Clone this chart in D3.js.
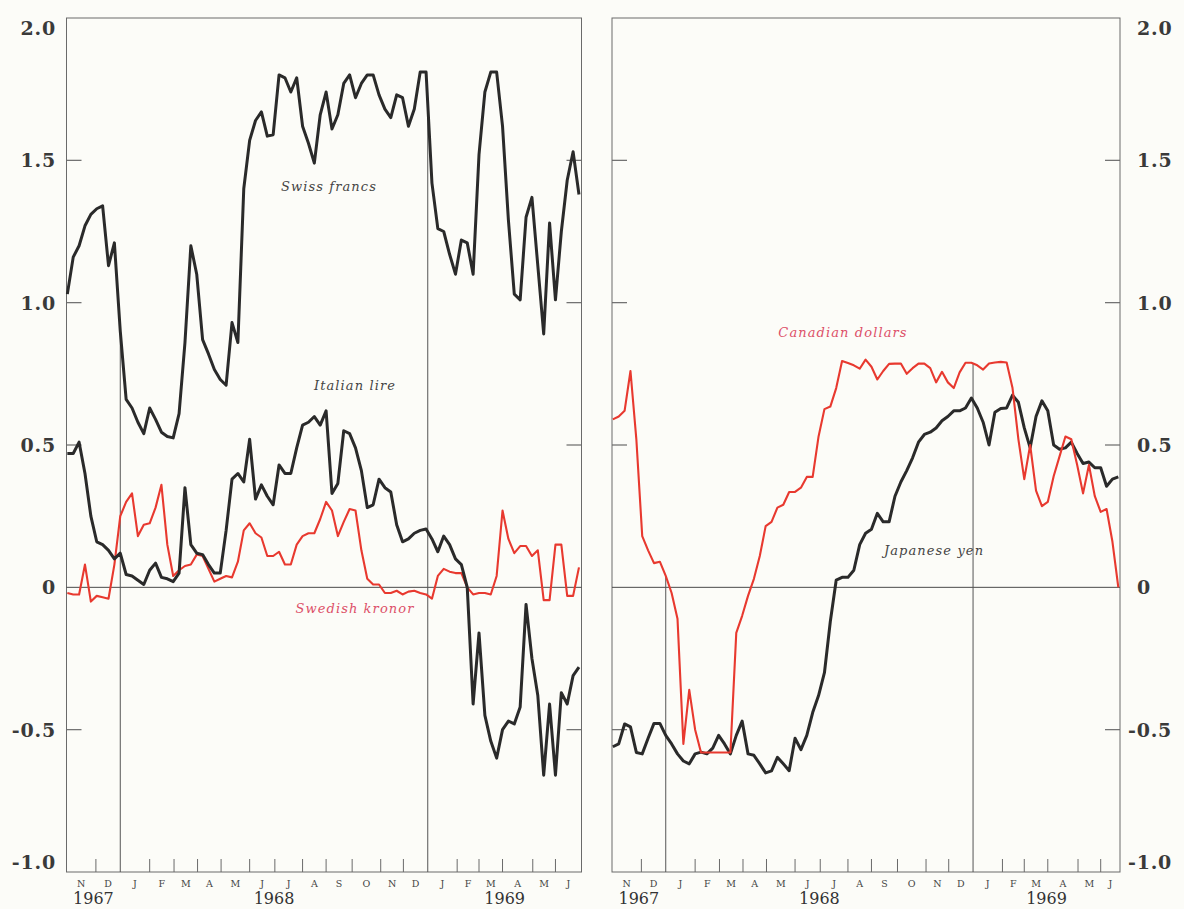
<!DOCTYPE html>
<html>
<head>
<meta charset="utf-8">
<script src="https://cdn.jsdelivr.net/npm/d3@7/dist/d3.min.js"></script>
<style>
  html, body { margin: 0; padding: 0; background: #fcfcf8; }
  svg { display: block; }
</style>
</head>
<body>
<svg id="chart" width="1184" height="909"></svg>
<script>
// Weekly observations, first week ending 30 Oct 1967
const firstWeek = "1967-10-30";

// Left panel
const swissFrancs = [
  1.03, 1.16, 1.20, 1.27, 1.31, 1.33, 1.34, 1.13, 1.21, 0.90,
  0.66, 0.63, 0.58, 0.54, 0.63, 0.59, 0.545, 0.53, 0.525, 0.61,
  0.86, 1.20, 1.10, 0.87, 0.82, 0.765, 0.73, 0.71, 0.93, 0.86,
  1.40, 1.57, 1.64, 1.67, 1.585, 1.59, 1.80, 1.79, 1.74, 1.79,
  1.62, 1.56, 1.49, 1.66, 1.74, 1.61, 1.66, 1.77, 1.80, 1.72,
  1.77, 1.80, 1.80, 1.73, 1.68, 1.65, 1.73, 1.72, 1.62, 1.68,
  1.81, 1.81, 1.42, 1.26, 1.25, 1.17, 1.10, 1.22, 1.21, 1.10,
  1.52, 1.74, 1.81, 1.81, 1.62, 1.29, 1.03, 1.01, 1.30, 1.37,
  1.13, 0.89, 1.28, 1.01, 1.25, 1.43, 1.53, 1.38
];
const italianLire = [
  0.47, 0.47, 0.51, 0.40, 0.25, 0.16, 0.15, 0.13, 0.10, 0.12,
  0.045, 0.04, 0.025, 0.01, 0.06, 0.085, 0.035, 0.03, 0.02, 0.05,
  0.35, 0.15, 0.12, 0.115, 0.08, 0.05, 0.05, 0.20, 0.38, 0.40,
  0.37, 0.52, 0.31, 0.36, 0.32, 0.29, 0.43, 0.40, 0.40, 0.49,
  0.57, 0.58, 0.60, 0.57, 0.62, 0.33, 0.365, 0.55, 0.54, 0.49,
  0.41, 0.28, 0.29, 0.38, 0.35, 0.335, 0.22, 0.16, 0.17, 0.19,
  0.20, 0.205, 0.17, 0.125, 0.18, 0.15, 0.10, 0.08, 0.00, -0.41,
  -0.16, -0.45, -0.54, -0.60, -0.50, -0.47, -0.48, -0.42, -0.06, -0.25,
  -0.38, -0.66, -0.41, -0.66, -0.37, -0.41, -0.31, -0.28
];
const swedishKronor = [
  -0.02, -0.025, -0.025, 0.08, -0.05, -0.03, -0.035, -0.04, 0.08, 0.25,
  0.30, 0.33, 0.18, 0.22, 0.225, 0.28, 0.36, 0.15, 0.04, 0.06,
  0.075, 0.08, 0.115, 0.11, 0.065, 0.02, 0.03, 0.04, 0.035, 0.09,
  0.20, 0.225, 0.19, 0.175, 0.11, 0.11, 0.125, 0.08, 0.08, 0.15,
  0.18, 0.19, 0.19, 0.24, 0.30, 0.27, 0.18, 0.23, 0.275, 0.27,
  0.13, 0.03, 0.01, 0.01, -0.02, -0.02, -0.012, -0.025, -0.015, -0.012,
  -0.02, -0.025, -0.04, 0.04, 0.065, 0.055, 0.05, 0.05, 0.00, -0.025,
  -0.02, -0.02, -0.025, 0.04, 0.27, 0.17, 0.12, 0.145, 0.145, 0.11,
  0.13, -0.045, -0.045, 0.15, 0.15, -0.03, -0.03, 0.07
];

// Right panel
const canadianDollars = [
  0.59, 0.60, 0.62, 0.76, 0.52, 0.18, 0.13, 0.085, 0.09, 0.04,
  -0.02, -0.11, -0.55, -0.36, -0.50, -0.58, -0.58, -0.58, -0.58, -0.58,
  -0.58, -0.16, -0.10, -0.03, 0.03, 0.11, 0.215, 0.23, 0.28, 0.29,
  0.335, 0.335, 0.35, 0.388, 0.388, 0.53, 0.626, 0.635, 0.70, 0.795,
  0.788, 0.78, 0.768, 0.80, 0.775, 0.73, 0.76, 0.785, 0.786, 0.786,
  0.75, 0.77, 0.786, 0.786, 0.77, 0.72, 0.757, 0.72, 0.70, 0.755,
  0.789, 0.789, 0.78, 0.765, 0.786, 0.79, 0.792, 0.79, 0.70, 0.52,
  0.38, 0.50, 0.34, 0.285, 0.30, 0.39, 0.46, 0.53, 0.52, 0.43,
  0.33, 0.43, 0.32, 0.265, 0.275, 0.16, 0.00
];
const japaneseYen = [
  -0.56, -0.55, -0.48, -0.49, -0.58, -0.585, -0.53, -0.478, -0.478, -0.52,
  -0.55, -0.585, -0.61, -0.62, -0.585, -0.579, -0.585, -0.565, -0.52, -0.55,
  -0.585, -0.52, -0.47, -0.585, -0.59, -0.62, -0.652, -0.645, -0.597, -0.62,
  -0.644, -0.53, -0.57, -0.52, -0.44, -0.38, -0.30, -0.12, 0.025, 0.035,
  0.035, 0.06, 0.15, 0.19, 0.204, 0.26, 0.23, 0.23, 0.32, 0.37,
  0.41, 0.455, 0.51, 0.537, 0.545, 0.56, 0.585, 0.60, 0.62, 0.62,
  0.63, 0.665, 0.63, 0.58, 0.50, 0.615, 0.628, 0.63, 0.675, 0.65,
  0.56, 0.49, 0.60, 0.655, 0.62, 0.50, 0.485, 0.49, 0.51, 0.47,
  0.435, 0.44, 0.42, 0.42, 0.355, 0.38, 0.388
];

// Axis labelling
const valueTicks = [2.0, 1.5, 1.0, 0.5, 0, -0.5, -1.0];
const valueTickLabels = ["2.0", "1.5", "1.0", "0.5", "0", "-0.5", "-1.0"];
const monthLabels = ["N", "D", "J", "F", "M", "A", "M", "J", "J", "A", "S", "O", "N", "D",
                     "J", "F", "M", "A", "M", "J"];
const monthTickDates = ["1967-12-03", "1968-02-05", "1968-03-05", "1968-04-02", "1968-04-30",
                        "1968-06-03", "1968-07-03", "1968-08-05", "1968-09-02", "1968-10-03",
                        "1968-11-06", "1968-12-03", "1969-02-05", "1969-03-03", "1969-03-31",
                        "1969-05-06", "1969-06-02"];
const yearStartDates = ["1968-01-01", "1969-01-01"];
const yearLabels = ["1967", "1968", "1969"];

const parse = d3.timeParse("%Y-%m-%d");
const start = parse(firstWeek);
const weekDates = n => d3.range(n).map(i => d3.timeDay.offset(start, 7 * i));
const monthTicks = monthTickDates.map(parse);
const yearStarts = yearStartDates.map(parse);

const W = 1184, H = 909;
const plotTop = 18, plotBottom = 872;
const lineBlack = "#2a2a2a", lineRed = "#e8392f", labelRed = "#dc5068";
const frameColor = "#6a6a6a";

const svg = d3.select("#chart");
svg.append("rect").attr("width", W).attr("height", H).attr("fill", "#fcfcf8");

const y = d3.scaleLinear().domain([-1, 2]).range([plotBottom, plotTop]);

const panels = [
  {
    left: 66.5, right: 581.5, end: "1969-07-03", labelSide: "left",
    series: [
      { values: swedishKronor, color: lineRed, width: 2.1 },
      { values: italianLire, color: lineBlack, width: 3 },
      { values: swissFrancs, color: lineBlack, width: 3 }
    ],
    names: [
      { text: "Swiss francs", x: 329, y: 191, color: "#444" },
      { text: "Italian lire", x: 355, y: 390, color: "#444" },
      { text: "Swedish kronor", x: 355, y: 613, color: labelRed }
    ]
  },
  {
    left: 612, right: 1120, end: "1969-06-25", labelSide: "right",
    series: [
      { values: japaneseYen, color: lineBlack, width: 3 },
      { values: canadianDollars, color: lineRed, width: 2.1 }
    ],
    names: [
      { text: "Canadian dollars", x: 843, y: 337, color: labelRed },
      { text: "Japanese yen", x: 934, y: 555, color: "#444" }
    ]
  }
];

// series value at a given date (linear between weekly points)
function seriesAt(values, date) {
  const dates = weekDates(values.length);
  const i = d3.bisector(d => d).left(dates, date);
  if (i <= 0) return values[0];
  if (i >= dates.length) return values[values.length - 1];
  const t = (date - dates[i - 1]) / (dates[i] - dates[i - 1]);
  return values[i - 1] + t * (values[i] - values[i - 1]);
}

panels.forEach(p => {
  const x = d3.scaleTime()
    .domain([d3.timeDay.offset(start, -1), parse(p.end)])
    .range([p.left, p.right]);
  const g = svg.append("g");

  // frame
  g.append("rect")
    .attr("x", p.left).attr("y", plotTop)
    .attr("width", p.right - p.left).attr("height", plotBottom - plotTop)
    .attr("fill", "none").attr("stroke", frameColor).attr("stroke-width", 1);

  // zero line
  g.append("line")
    .attr("x1", p.left).attr("x2", p.right)
    .attr("y1", y(0)).attr("y2", y(0))
    .attr("stroke", "#4a4a4a").attr("stroke-width", 1);

  // value ticks on both sides of the frame
  const inner = valueTicks.filter(v => v > -1 && v < 2 && v !== 0);
  g.selectAll(".ytl").data(inner).join("line")
    .attr("x1", p.left).attr("x2", p.left + 15)
    .attr("y1", d => y(d)).attr("y2", d => y(d))
    .attr("stroke", frameColor).attr("stroke-width", 1.2);
  g.selectAll(".ytr").data(inner).join("line")
    .attr("x1", p.right - 15).attr("x2", p.right)
    .attr("y1", d => y(d)).attr("y2", d => y(d))
    .attr("stroke", frameColor).attr("stroke-width", 1.2);

  // month ticks along the bottom
  g.selectAll(".mt").data(monthTicks).join("line")
    .attr("x1", d => x(d)).attr("x2", d => x(d))
    .attr("y1", plotBottom).attr("y2", plotBottom - 13)
    .attr("stroke", frameColor).attr("stroke-width", 1);

  // year divisions drop from the highest curve down to the axis
  yearStarts.forEach(d => {
    const v = d3.max(p.series, s => seriesAt(s.values, d));
    g.append("line")
      .attr("x1", x(d)).attr("x2", x(d))
      .attr("y1", y(v)).attr("y2", plotBottom)
      .attr("stroke", "#555").attr("stroke-width", 1);
  });

  // month letters centred between boundaries
  const bounds = [x.domain()[0], monthTicks[0], yearStarts[0],
    ...monthTicks.slice(1, 12), yearStarts[1], ...monthTicks.slice(12), x.domain()[1]];
  g.selectAll(".ml").data(monthLabels).join("text")
    .attr("x", (d, i) => (x(bounds[i]) + x(bounds[i + 1])) / 2)
    .attr("y", 887)
    .attr("text-anchor", "middle")
    .attr("font-family", "DejaVu Serif")
    .attr("font-size", 9.5)
    .attr("fill", "#444")
    .text(d => d);

  // years
  const yearBounds = [x.domain()[0], ...yearStarts, x.domain()[1]];
  g.selectAll(".yl").data(yearLabels).join("text")
    .attr("x", (d, i) => (x(yearBounds[i]) + x(yearBounds[i + 1])) / 2)
    .attr("y", 904)
    .attr("text-anchor", "middle")
    .attr("font-family", "DejaVu Serif")
    .attr("font-size", 16)
    .attr("fill", "#333")
    .text(d => d);

  // curves
  const line = d3.line()
    .x(d => x(d.date))
    .y(d => y(d.value));
  p.series.forEach(s => {
    const dates = weekDates(s.values.length);
    const pts = s.values.map((v, i) => ({ date: dates[i], value: v }));
    g.append("path")
      .datum(pts)
      .attr("d", line)
      .attr("fill", "none")
      .attr("stroke", s.color)
      .attr("stroke-width", s.width)
      .attr("stroke-linejoin", "round");
  });

  // series names
  g.selectAll(".nm").data(p.names).join("text")
    .attr("x", d => d.x).attr("y", d => d.y)
    .attr("text-anchor", "middle")
    .attr("font-family", "DejaVu Serif")
    .attr("font-style", "italic")
    .attr("font-size", 13)
    .attr("letter-spacing", 1.1)
    .attr("fill", d => d.color)
    .text(d => d.text);

  // value labels: right-aligned on the left panel, digit-aligned on the right panel
  const labels = g.selectAll(".vl").data(valueTicks).join("text")
    .attr("y", d => y(d) + 7 + (d === 2 ? 10 : d === -1 ? -10 : 0))
    .attr("font-family", "DejaVu Serif")
    .attr("font-weight", "bold")
    .attr("font-size", 19)
    .attr("letter-spacing", 0.8)
    .attr("fill", "#3a3a3a")
    .text((d, i) => valueTickLabels[i]);
  if (p.labelSide === "left") {
    labels.attr("x", 56).attr("text-anchor", "end");
  } else {
    labels.attr("x", d => d < 0 ? 1128 : 1137).attr("text-anchor", "start");
  }
});
</script>
</body>
</html>
